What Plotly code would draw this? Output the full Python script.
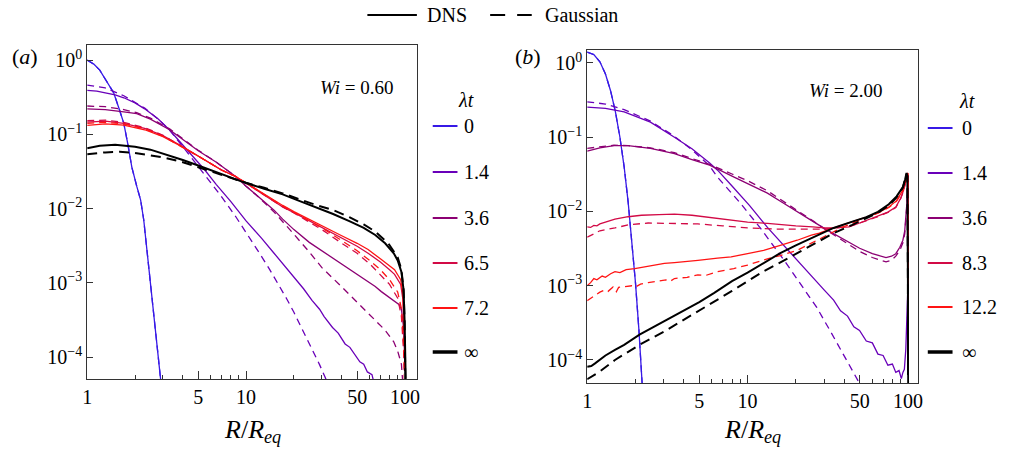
import plotly.graph_objects as go

# ---------------- data : panel (a)  Wi = 0.60 ----------------
a_labels = ["0", "1.4", "3.6", "6.5", "7.2", "\u221e"]

a0_R = [1.0, 1.1, 1.2, 1.3, 1.47, 1.6, 1.7, 1.8, 1.91, 2.05, 2.17, 2.27, 2.5, 2.7, 2.9, 3.0]
a0_P = [1.0, 0.88, 0.73, 0.55, 0.36, 0.21, 0.14, 0.075, 0.036, 0.02, 0.013, 0.007, 0.001, 2.1e-4, 4.5e-5, 2.5e-5]

a1_R = [1, 1.15, 1.3, 1.5, 1.7, 2.0, 2.3, 2.8, 3.3, 4.0, 4.5, 5.5, 6.5, 8, 10, 12.5, 15, 17, 20, 23, 26, 29, 31, 35, 38, 42, 45, 48, 52, 55, 58, 62, 65]
a1_P = [0.39, 0.38, 0.36, 0.34, 0.31, 0.265, 0.22, 0.16, 0.114, 0.072, 0.055, 0.033, 0.021, 0.0125, 0.0068, 0.0040, 0.0025, 0.0018, 0.0012,
        8.3e-4, 5.8e-4, 4.4e-4, 3.5e-4, 2.5e-4, 2.1e-4, 1.5e-4, 1.35e-4, 1.1e-4, 8.6e-5, 8.0e-5, 6.3e-5, 5.8e-5, 3.8e-5]
a1g_R = [1, 1.3, 1.7, 2.3, 2.8, 3.3, 4.0, 5.0, 6.0, 7.0, 8.6, 10, 12, 14, 16, 18, 20, 23, 26, 29, 32, 34]
a1g_P = [0.46, 0.42, 0.33, 0.225, 0.16, 0.114, 0.068, 0.037, 0.022, 0.0145, 0.0078, 0.0048, 0.0026, 0.00154, 9.5e-4, 6.1e-4, 4.0e-4,
         2.2e-4, 1.3e-4, 7.9e-5, 4.9e-5, 3.6e-5]

a2_R = [1, 1.3, 1.7, 2.05, 2.5, 3.3, 4.0, 5.0, 6.5, 8.6, 10, 12, 15, 17, 20, 25, 30, 35, 40, 48, 55, 60, 65, 71, 78, 85, 91.6, 95, 98, 100, 101]
a2_P = [0.22, 0.215, 0.2, 0.19, 0.16, 0.115, 0.085, 0.06, 0.042, 0.027, 0.02, 0.0145, 0.0095, 0.0072, 0.0052, 0.0035, 0.0027, 0.0022,
        0.0018, 0.0014, 0.00115, 0.001, 8.9e-4, 7.6e-4, 6.6e-4, 5.8e-4, 5.1e-4, 4.4e-4, 2.5e-4, 8e-5, 3e-5]
a2g_R = [1, 1.3, 1.7, 2.05, 2.5, 3.3, 4.0, 5.0, 6.5, 8.6, 10, 12, 15, 17.6, 20, 25, 30, 40, 45, 55, 60, 75, 85, 90, 95, 98, 99.5]
a2g_P = [0.24, 0.235, 0.215, 0.195, 0.165, 0.118, 0.087, 0.061, 0.042, 0.027, 0.02, 0.0142, 0.009, 0.0062, 0.0045, 0.0026, 0.0016,
         8.8e-4, 6.8e-4, 4.5e-4, 3.7e-4, 2.3e-4, 1.6e-4, 1.2e-4, 8e-5, 4e-5, 2e-5]

a3_R = [1, 1.3, 1.7, 2.3, 3.0, 4.0, 5.5, 7, 8.6, 10, 12, 15, 17, 20, 25, 30, 35, 40, 50, 58.6, 70, 80, 86, 94, 97, 99, 100, 101]
a3_P = [0.146, 0.15, 0.14, 0.12, 0.096, 0.068, 0.045, 0.033, 0.027, 0.022, 0.017, 0.0125, 0.0105, 0.0088, 0.0068, 0.0055, 0.0046,
        0.004, 0.0031, 0.0025, 0.0019, 0.0015, 0.0013, 9.5e-4, 6e-4, 2e-4, 8e-5, 3e-5]
a3g_R = [1, 1.3, 1.7, 2.3, 3.0, 4.0, 5.5, 7, 8.6, 10, 12, 15, 17, 20, 25, 30, 40, 50, 60, 70, 80, 90, 95, 98, 100]
a3g_P = [0.152, 0.155, 0.145, 0.123, 0.097, 0.068, 0.045, 0.033, 0.027, 0.022, 0.017, 0.0125, 0.0105, 0.0087, 0.0066, 0.0052,
         0.0034, 0.0025, 0.0018, 0.0013, 9.5e-4, 6.2e-4, 3.5e-4, 1.2e-4, 3e-5]

a4_R = [1, 1.3, 1.7, 2.3, 3.0, 4.0, 5.5, 7, 8.6, 10, 12, 15, 17, 20, 25, 30, 35, 40, 50, 58.6, 70, 80, 86, 94, 97, 99, 100, 101]
a4_P = [0.132, 0.138, 0.133, 0.115, 0.093, 0.067, 0.045, 0.033, 0.027, 0.022, 0.0172, 0.0128, 0.011, 0.0091, 0.0071, 0.0058, 0.0049,
        0.0043, 0.0034, 0.0028, 0.0021, 0.0017, 0.0015, 0.0011, 7e-4, 2.5e-4, 1e-4, 3e-5]
a4g_R = [1, 1.3, 1.7, 2.3, 3.0, 4.0, 5.5, 7, 8.6, 10, 12, 15, 17, 20, 25, 30, 40, 50, 60, 70, 80, 90, 95, 98, 100]
a4g_P = [0.14, 0.145, 0.138, 0.118, 0.094, 0.067, 0.045, 0.033, 0.027, 0.022, 0.0172, 0.0128, 0.0108, 0.0089, 0.0069, 0.0055,
         0.0037, 0.0027, 0.002, 0.0015, 0.0011, 7.5e-4, 4.5e-4, 1.5e-4, 3e-5]

a5_R = [1, 1.2, 1.5, 2.0, 2.5, 3.0, 4.0, 5.0, 6.5, 8, 10, 13, 17, 22, 28, 35, 45, 55, 65, 75, 85, 90, 95, 98, 99.5, 100.5, 101.5, 102.5]
a5_P = [0.065, 0.07, 0.072, 0.068, 0.062, 0.055, 0.045, 0.038, 0.031, 0.026, 0.022, 0.0185, 0.0155, 0.0125, 0.0102, 0.0085, 0.0067,
        0.0055, 0.0044, 0.0034, 0.0025, 0.002, 0.0014, 8e-4, 3e-4, 1e-4, 3e-5, 1e-5]
a5g_R = [1, 1.3, 1.6, 2.0, 3.0, 4.0, 5.0, 6.5, 8, 10, 13, 17, 22, 28, 35, 45, 55, 65, 78.5, 90, 95, 98, 99.5, 100.5, 101]
a5g_P = [0.054, 0.057, 0.058, 0.056, 0.049, 0.042, 0.036, 0.030, 0.026, 0.0222, 0.019, 0.016, 0.0132, 0.011, 0.0096, 0.0076, 0.0061,
         0.0049, 0.0034, 0.0022, 0.0015, 8e-4, 3e-4, 5e-5, 2e-5]

# ---------------- data : panel (b)  Wi = 2.00 ----------------
b_labels = ["0", "1.4", "3.6", "8.3", "12.2", "\u221e"]

b0_R = [1.0, 1.1, 1.2, 1.3, 1.4, 1.5, 1.6, 1.7, 1.8, 1.9, 2.0, 2.1, 2.2, 2.3]
b0_P = [1.4, 1.3, 1.04, 0.71, 0.42, 0.22, 0.1, 0.04, 0.0135, 0.004, 0.0011, 2.6e-4, 6e-5, 1e-5]

b1_R = [1, 1.3, 1.7, 2.48, 3.5, 4.5, 5.8, 6.5, 8, 10.3, 13.3, 17, 21.3, 27, 30, 34.4, 38, 42, 46, 49.9, 55, 60, 65, 70, 75, 80, 84, 88, 91, 93, 95, 97, 99, 100, 100.6]
b1_P = [0.255, 0.245, 0.22, 0.16, 0.1, 0.07, 0.045, 0.036, 0.022, 0.012, 0.0061, 0.0034, 0.002, 0.0011, 8.8e-4, 6.4e-4, 4.6e-4, 3.9e-4,
        2.8e-4, 2.5e-4, 1.8e-4, 1.7e-4, 1.2e-4, 1.15e-4, 8.5e-5, 8.8e-5, 6.8e-5, 7.2e-5, 5.6e-5, 6.8e-5, 7.5e-5, 1.4e-4, 4.5e-4, 1e-3, 2e-5]
b1g_R = [1, 1.3, 1.7, 2.48, 3.5, 4.5, 5.8, 6.5, 8.9, 12, 16.9, 21, 27, 33, 39.5, 45, 50, 53]
b1g_P = [0.3, 0.28, 0.235, 0.165, 0.103, 0.068, 0.041, 0.029, 0.0134, 0.006, 0.0022, 0.0011, 5.1e-4, 2.4e-4, 1.2e-4, 7.5e-5, 4.8e-5, 3.5e-5]

b2_R = [1, 1.2, 1.47, 1.8, 2.48, 3.5, 4.5, 5.8, 8, 10, 13.3, 16.4, 21.3, 26, 31, 37, 43, 50, 60, 67, 73, 79, 84, 89, 93, 95.5, 97, 98.5, 99.5, 100, 100.6]
b2_P = [0.065, 0.072, 0.077, 0.077, 0.071, 0.06, 0.05, 0.042, 0.03, 0.024, 0.0177, 0.0133, 0.0095, 0.0072, 0.0057, 0.0046, 0.0038,
        0.0032, 0.0027, 0.0025, 0.0024, 0.0025, 0.0027, 0.0033, 0.0041, 0.0055, 0.0076, 0.013, 0.022, 0.03, 2e-5]
b2g_R = [1, 1.2, 1.47, 1.8, 2.48, 3.5, 4.5, 5.8, 8, 10, 13.3, 16.4, 21.3, 26, 31, 37, 43, 50, 60, 67, 73, 79, 84, 89, 93, 95.5, 97, 98.5, 99.5, 100, 100.6]
b2g_P = [0.071, 0.075, 0.078, 0.077, 0.072, 0.062, 0.052, 0.043, 0.032, 0.026, 0.019, 0.0142, 0.0098, 0.0073, 0.0056, 0.0044, 0.0035,
         0.0029, 0.0024, 0.0022, 0.0021, 0.0022, 0.0025, 0.003, 0.0038, 0.005, 0.0072, 0.012, 0.02, 0.028, 2e-5]

b3_R = [1, 1.05, 1.1, 1.15, 1.2, 1.3, 1.49, 1.8, 2.18, 2.8, 3.5, 4.5, 5.66, 7, 10, 13.3, 16, 20, 25.5, 30, 35, 43, 50, 63, 75, 84, 90, 94, 97, 98.5, 99.5, 100, 100.6]
b3_P = [0.0062, 0.0061, 0.0065, 0.0064, 0.0068, 0.0072, 0.0079, 0.0085, 0.0089, 0.0091, 0.0092, 0.0089, 0.0084, 0.0078, 0.0072,
        0.0069, 0.0066, 0.0064, 0.0062, 0.006, 0.006, 0.0062, 0.007, 0.0084, 0.0098, 0.0115, 0.015, 0.0194, 0.026, 0.031, 0.033, 0.03, 2e-5]
b3g_R = [1, 1.1, 1.2, 1.49, 1.8, 2.4, 3.5, 4.9, 7, 10, 15, 20, 25.5, 30, 35, 43, 50, 63, 75, 84, 90, 94, 97, 98.5, 99.5, 100, 100.6]
b3g_P = [0.0045, 0.005, 0.0055, 0.006, 0.0066, 0.007, 0.0069, 0.0068, 0.0064, 0.006, 0.0058, 0.0058, 0.0058, 0.0058, 0.006, 0.0063,
         0.007, 0.0083, 0.0097, 0.0113, 0.0148, 0.019, 0.025, 0.03, 0.032, 0.03, 2e-5]

b4_R = [1, 1.05, 1.1, 1.15, 1.24, 1.3, 1.4, 1.49, 1.6, 1.75, 1.98, 2.3, 2.6, 3.03, 3.5, 4.0, 4.9, 6.5, 7.9, 10, 12.6, 16, 20.4, 25,
        28, 34.4, 43, 55, 65, 76, 85, 93, 97, 99, 100, 100.6]
b4_P = [1.0e-3, 1.1e-3, 1.25e-3, 1.2e-3, 1.35e-3, 1.3e-3, 1.45e-3, 1.55e-3, 1.5e-3, 1.65e-3, 1.7e-3, 1.8e-3, 1.9e-3, 2.0e-3,
        2.05e-3, 2.1e-3, 2.2e-3, 2.35e-3, 2.45e-3, 2.7e-3, 3.0e-3, 3.5e-3, 4.1e-3, 4.8e-3, 5.1e-3, 6.0e-3, 7.0e-3, 8.4e-3,
        9.6e-3, 0.0115, 0.014, 0.0194, 0.026, 0.031, 0.033, 2e-5]
b4g_R = [1, 1.05, 1.12, 1.2, 1.29, 1.35, 1.45, 1.52, 1.57, 1.7, 1.9, 2.0, 2.15, 2.4, 2.8, 3.1, 3.3, 3.5, 4.2, 4.9, 5.5, 6.5, 8.2,
         10, 13.3, 16, 20.4, 27, 33, 39.5, 47, 55, 65, 76, 85, 93, 97, 99, 100, 100.6]
b4g_P = [6.3e-4, 6.8e-4, 7.4e-4, 8.2e-4, 8.8e-4, 8.4e-4, 9.6e-4, 8.3e-4, 9.5e-4, 9.8e-4, 1.0e-3, 9.6e-4, 1.05e-3, 1.1e-3, 1.15e-3,
         1.2e-3, 1.15e-3, 1.25e-3, 1.3e-3, 1.4e-3, 1.38e-3, 1.55e-3, 1.7e-3, 1.9e-3, 2.3e-3, 2.55e-3, 3.0e-3, 4.1e-3, 5.2e-3,
         6.2e-3, 7.2e-3, 8.3e-3, 9.5e-3, 0.0113, 0.0138, 0.019, 0.025, 0.03, 0.032, 2e-5]

b5_R = [1, 1.06, 1.12, 1.2, 1.3, 1.49, 1.7, 2.12, 2.6, 3.2, 3.86, 5, 6.2, 8, 10, 12.5, 16, 20, 25.5, 34.4, 45, 55, 65, 76, 85, 93,
        96, 98, 99.2, 99.8, 100, 100.2]
b5_P = [8.1e-5, 8.3e-5, 9e-5, 1.02e-4, 1.15e-4, 1.37e-4, 1.6e-4, 2.2e-4, 2.8e-4, 3.5e-4, 4.4e-4, 6.0e-4, 8.0e-4, 1.15e-3, 1.5e-3,
        2.0e-3, 2.75e-3, 3.5e-3, 4.5e-3, 6.0e-3, 7.3e-3, 8.4e-3, 9.9e-3, 0.0125, 0.016, 0.0214, 0.027, 0.033, 0.03, 0.005, 1e-3, 2e-5]
b5g_R = [1, 1.2, 1.49, 2.12, 3.0, 3.86, 5, 6.5, 8, 10, 12.5, 16.9, 25.5, 34.4, 45, 55, 65, 76, 85, 93, 96, 98, 99.2, 99.8, 100, 100.2]
b5g_P = [5.5e-5, 7e-5, 1e-4, 1.6e-4, 2.4e-4, 3.3e-4, 4.6e-4, 6.5e-4, 8.5e-4, 1.15e-3, 1.55e-3, 2.2e-3, 3.6e-3, 5.1e-3, 6.6e-3,
         8.0e-3, 9.6e-3, 0.012, 0.0155, 0.021, 0.026, 0.032, 0.03, 0.005, 1e-3, 2e-5]

x_tickvals = [1, 5, 10, 50, 100]
x_ticktext = ["1", "5", "10", "50", "100"]
x_minor = [2, 3, 4, 6, 7, 8, 9, 20, 30, 40, 60, 70, 80, 90]
y_tickvals = [1, 0.1, 0.01, 0.001, 0.0001]
y_ticktext = ["10<sup>0</sup>", "10<sup>\u22121</sup>", "10<sup>\u22122</sup>", "10<sup>\u22123</sup>", "10<sup>\u22124</sup>"]

# ---------------- styling ----------------
COLORS = ["rgb(55,25,230)", "rgb(105,0,185)", "rgb(140,0,115)", "rgb(210,10,70)", "rgb(255,20,20)", "black"]
WIDTHS = [1.3, 1.3, 1.3, 1.3, 1.3, 2.0]
FONT = "'Liberation Serif', 'DejaVu Serif', serif"
W, H = 1011, 455


def px(x):
    return x / W


def py(y):
    return 1 - y / H


fig = go.Figure()

a_sets = [(a0_R, a0_P, a0_R, a0_P), (a1_R, a1_P, a1g_R, a1g_P), (a2_R, a2_P, a2g_R, a2g_P),
          (a3_R, a3_P, a3g_R, a3g_P), (a4_R, a4_P, a4g_R, a4g_P), (a5_R, a5_P, a5g_R, a5g_P)]
b_sets = [(b0_R, b0_P, b0_R, b0_P), (b1_R, b1_P, b1g_R, b1g_P), (b2_R, b2_P, b2g_R, b2g_P),
          (b3_R, b3_P, b3g_R, b3g_P), (b4_R, b4_P, b4g_R, b4g_P), (b5_R, b5_P, b5g_R, b5g_P)]

for sets, xa, ya in [(a_sets, "x", "y"), (b_sets, "x2", "y2")]:
    for i, (R, P, Rg, Pg) in enumerate(sets):
        dash = "10px,6px" if i == 5 else "7px,5px"
        fig.add_trace(go.Scatter(x=Rg, y=Pg, mode="lines", xaxis=xa, yaxis=ya, showlegend=False, hoverinfo="skip",
                                 line=dict(color=COLORS[i], width=WIDTHS[i], dash=dash)))
        fig.add_trace(go.Scatter(x=R, y=P, mode="lines", xaxis=xa, yaxis=ya, showlegend=False, hoverinfo="skip",
                                 line=dict(color=COLORS[i], width=WIDTHS[i])))

axis_common = dict(type="log", showgrid=False, zeroline=False, showline=True, linecolor="#333", linewidth=1,
                   mirror=True, ticks="inside", tickcolor="#333",
                   tickfont=dict(family=FONT, size=20, color="black"))

fig.update_layout(
    width=W, height=H, margin=dict(l=0, r=0, t=0, b=0), autosize=False,
    paper_bgcolor="white", plot_bgcolor="white",
    font=dict(family=FONT, size=20, color="black"),
    xaxis=dict(domain=[px(83), px(416)], range=[0, 2.075], anchor="y", tickvals=x_tickvals, ticktext=x_ticktext,
               ticklen=8, minor=dict(tickvals=x_minor, ticks="inside", ticklen=4, tickcolor="#333"), **axis_common),
    yaxis=dict(domain=[py(379), py(45)], range=[-4.296, 0.202], anchor="x", tickvals=y_tickvals, ticktext=y_ticktext,
               ticklen=6, **axis_common),
    xaxis2=dict(domain=[px(588), px(922)], range=[0, 2.062], anchor="y2", tickvals=x_tickvals, ticktext=x_ticktext,
                ticklen=8, minor=dict(tickvals=x_minor, ticks="inside", ticklen=4, tickcolor="#333"), **axis_common),
    yaxis2=dict(domain=[py(383), py(50)], range=[-4.310, 0.175], anchor="x2", tickvals=y_tickvals, ticktext=y_ticktext,
                ticklen=6, **axis_common),
)

ann = []
shapes = []


def text(x, y, s, size=20, anchor="center"):
    ann.append(dict(x=px(x), y=py(y), xref="paper", yref="paper", text=s, showarrow=False, xanchor=anchor,
                    yanchor="middle", font=dict(family=FONT, size=size, color="black")))


# top legend
shapes.append(dict(type="line", xref="paper", yref="paper", x0=px(366), x1=px(416), y0=py(15), y1=py(15),
                   line=dict(color="black", width=2)))
shapes.append(dict(type="line", xref="paper", yref="paper", x0=px(490), x1=px(532), y0=py(15), y1=py(15),
                   line=dict(color="black", width=2, dash="15px,12px")))
text(424, 15, "DNS", anchor="left")
text(543, 15, "Gaussian", anchor="left")

# panel labels
text(20, 56, "(<i>a</i>)", size=22)
text(528, 56, "(<i>b</i>)", size=22)
text(356, 87, "<i>Wi</i> = 0.60", size=19)
text(849, 91, "<i>Wi</i> = 2.00", size=19)

# axis titles
xt = "<i>R</i>/<i>R</i><sub><i>eq</i></sub>"
text(250, 431, xt, size=26)
text(755, 431, xt, size=26)

# lambda-t legends
rows_a = [126, 172, 218, 263, 308, 352]
rows_b = [128, 173, 218, 263, 307, 352]
text(466, 100, "<i>\u03bbt</i>")
text(972, 101, "<i>\u03bbt</i>")
for i in range(6):
    lw = 3.5 if i == 5 else 2
    shapes.append(dict(type="line", xref="paper", yref="paper", x0=px(432), x1=px(457), y0=py(rows_a[i]), y1=py(rows_a[i]),
                       line=dict(color=COLORS[i], width=lw)))
    text(462, rows_a[i], a_labels[i], anchor="left")
    shapes.append(dict(type="line", xref="paper", yref="paper", x0=px(932), x1=px(957), y0=py(rows_b[i]), y1=py(rows_b[i]),
                       line=dict(color=COLORS[i], width=lw)))
    text(965, rows_b[i], b_labels[i], anchor="left")

fig.update_layout(annotations=ann, shapes=shapes)
fig.write_html("out.html")
